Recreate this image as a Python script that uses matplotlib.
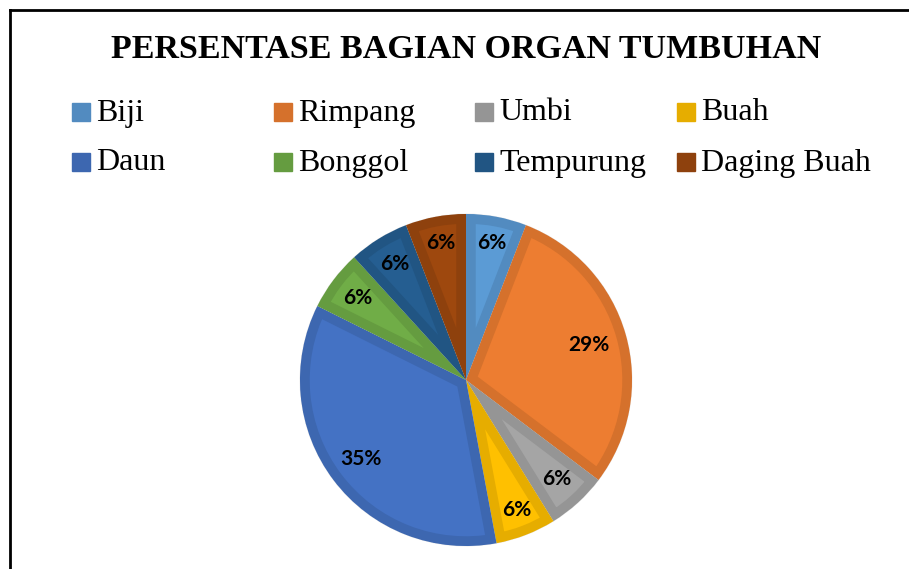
import numpy as np
import matplotlib.pyplot as plt
import matplotlib.colors as mcolors
from matplotlib.patches import Rectangle, PathPatch

# data
labels = ['Biji', 'Rimpang', 'Umbi', 'Buah', 'Daun', 'Bonggol', 'Tempurung', 'Daging Buah']
counts = [1, 5, 1, 1, 6, 1, 1, 1]
colors = ['#5B9BD5', '#ED7D31', '#A5A5A5', '#FFC000', '#4472C4', '#70AD47', '#255E91', '#9E480E']
title = 'PERSENTASE BAGIAN ORGAN TUMBUHAN'

W, H = 909, 569
fig = plt.figure(figsize=(W / 100, H / 100), dpi=100)

def darker(c, f=0.9):
    r, g, b = mcolors.to_rgb(c)
    return (r * f, g * f, b * f)

edge_cols = [darker(c) for c in colors]

# pie axes: center (466,380), radius 166 px
cx, cy, r = 466, 380, 166
ax = fig.add_axes([(cx - r) / W, 1 - (cy + r) / H, 2 * r / W, 2 * r / H])
wedges, texts, autotexts = ax.pie(counts, colors=colors, startangle=90, counterclock=False,
                                  autopct='%1.0f%%', pctdistance=0.8, radius=1,
                                  wedgeprops=dict(linewidth=0.6, edgecolor='#e8e8e8'),
                                  textprops=dict(fontsize=15, fontweight='bold', family='Lato', color='black'))
ax.set_xlim(-1, 1)
ax.set_ylim(-1, 1)
ax.set_aspect('equal')
ax.axis('off')

# inner darker band on each wedge (Excel style)
for w, ec in zip(wedges, edge_cols):
    band = PathPatch(w.get_path().transformed(w.get_patch_transform()), fill=False,
                     edgecolor=ec, linewidth=14, transform=ax.transData, zorder=w.get_zorder() + 0.1)
    ax.add_patch(band)
    band.set_clip_path(w)

# pct label radii like Excel best fit
pct_r = [0.84, 0.77, 0.81, 0.84, 0.79, 0.82, 0.82, 0.84]
for w, t, rr in zip(wedges, autotexts, pct_r):
    ang = np.deg2rad((w.theta1 + w.theta2) / 2)
    t.set_position((rr * np.cos(ang), rr * np.sin(ang)))
    t.set_zorder(5)

# frame lines (top and left)
fig.add_artist(plt.Line2D([10 / W, 1], [1 - 10 / H, 1 - 10 / H], color='black', linewidth=2))
fig.add_artist(plt.Line2D([10 / W, 10 / W], [0, 1 - 10 / H], color='black', linewidth=2))

fig.text(466 / W, 1 - 49 / H, title, ha='center', va='center', fontsize=24.5,
         fontweight='bold', family='Liberation Serif')

# legend in a 4x2 grid
col_x = [72, 274, 475, 677]
row_y = [112, 162]
for i, (lab, ec) in enumerate(zip(labels, edge_cols)):
    x = col_x[i % 4]
    y = row_y[i // 4]
    fig.add_artist(Rectangle((x / W, 1 - (y + 9) / H), 18 / W, 18 / H, color=ec,
                             transform=fig.transFigure))
    fig.text((x + 24) / W, 1 - (y + 1) / H, lab, ha='left', va='center', fontsize=23,
             family='Liberation Serif')

fig.savefig('out.png', dpi=100)
